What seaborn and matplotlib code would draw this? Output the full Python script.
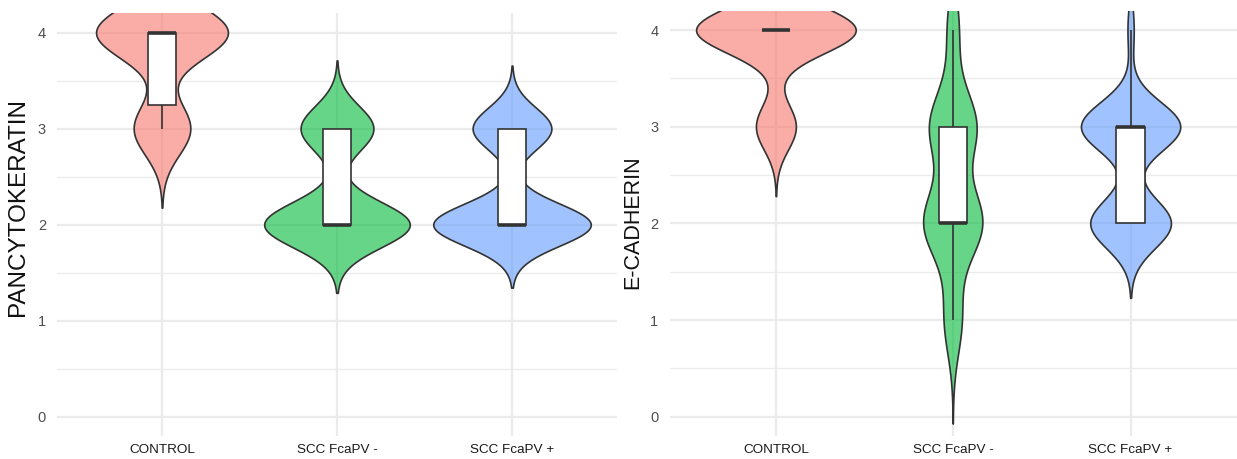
import numpy as np
import pandas as pd
import matplotlib
matplotlib.use("Agg")
import matplotlib.pyplot as plt
from matplotlib.colors import to_rgba
from matplotlib.ticker import MultipleLocator
import seaborn as sns

# Immunohistochemistry scores (0-4) per group
groups = ["CONTROL", "SCC FcaPV -", "SCC FcaPV +"]
scores = [0, 1, 2, 3, 4]

# number of cases at each score 0..4
pan_control = [0, 0, 0, 3, 7]
pan_scc_neg = [0, 0, 14, 7, 0]
pan_scc_pos = [0, 0, 20, 10, 0]

ecad_control = [0, 0, 0, 2, 8]
ecad_scc_neg = [0, 3, 10, 8, 2]
ecad_scc_pos = [0, 0, 13, 16, 1]

palette = ["#F8766D", "#00BA38", "#619CFF"]

sns.set_style("white")
plt.rcParams["font.family"] = ["Liberation Sans", "DejaVu Sans"]


def long_table(counts):
    parts = [pd.DataFrame({"group": g, "score": np.repeat(scores, c)})
             for g, c in zip(groups, counts)]
    return pd.concat(parts, ignore_index=True)


def nrd0(kde):
    """Silverman's rule of thumb as in R's bw.nrd0, as a factor of the sd."""
    x = np.asarray(kde.dataset, dtype=float).ravel()
    sd = x.std(ddof=1)
    q75, q25 = np.percentile(x, [75, 25])
    lo = min(sd, (q75 - q25) / 1.34)
    if lo == 0:
        lo = sd
    return 0.9 * lo * len(x) ** -0.2 / sd


def panel(ax, counts, ylabel, label_xy, label_size):
    df = long_table(counts)
    sns.violinplot(data=df, x="group", y="score", hue="group",
                   order=groups, hue_order=groups, palette=palette,
                   legend=False, saturation=1, bw_method=nrd0, cut=3,
                   gridsize=300, density_norm="area", common_norm=True,
                   width=0.9, inner=None, linewidth=1.2, linecolor="#333333",
                   ax=ax)
    for coll, c in zip(ax.collections, palette):
        coll.set_facecolor(to_rgba(c, 0.6))
        coll.set_zorder(2)
    sns.boxplot(data=df, x="group", y="score", order=groups, width=0.16,
                color="white", saturation=1, linecolor="#333333",
                linewidth=1.2, showfliers=False, whis=1.5, showcaps=False,
                medianprops=dict(linewidth=2.6, color="#333333"),
                zorder=3, ax=ax)

    ax.set_xlim(-0.6, 2.6)
    ax.set_ylim(-0.2, 4.2)
    ax.yaxis.set_major_locator(MultipleLocator(1))
    ax.yaxis.set_minor_locator(MultipleLocator(0.5))
    ax.set_axisbelow(True)
    ax.grid(which="major", color="#EBEBEB", linewidth=1.6, zorder=0)
    ax.grid(which="minor", axis="y", color="#EBEBEB", linewidth=0.9, zorder=0)
    ax.tick_params(which="both", length=0)
    ax.tick_params(axis="y", labelsize=10.5, labelcolor="#4D4D4D", pad=8)
    ax.tick_params(axis="x", labelsize=9.7, labelcolor="#1A1A1A", pad=6)
    for s in ax.spines.values():
        s.set_visible(False)
    ax.set_xlabel("")
    ax.set_ylabel(ylabel, fontsize=label_size, color="#111111",
                  va="center", ha="center")
    ax.yaxis.set_label_coords(*label_xy)


W, H = 1237, 459
fig = plt.figure(figsize=(W / 100, H / 100), dpi=100)

ax1 = fig.add_axes([57 / W, (H - 436) / H, 560 / W, (436 - 13.3) / H])
ax2 = fig.add_axes([669.5 / W, (H - 436) / H, 567.5 / W, (436 - 10.7) / H])

panel(ax1, [pan_control, pan_scc_neg, pan_scc_pos], "PANCYTOKERATIN",
      ((18 - 57) / 560, (436 - 206.5) / (436 - 13.3)), 17.5)
panel(ax2, [ecad_control, ecad_scc_neg, ecad_scc_pos], "E-CADHERIN",
      ((633 - 669.5) / 567.5, (436 - 222) / (436 - 10.7)), 15.5)

fig.savefig("out.png", dpi=100, facecolor="white")
